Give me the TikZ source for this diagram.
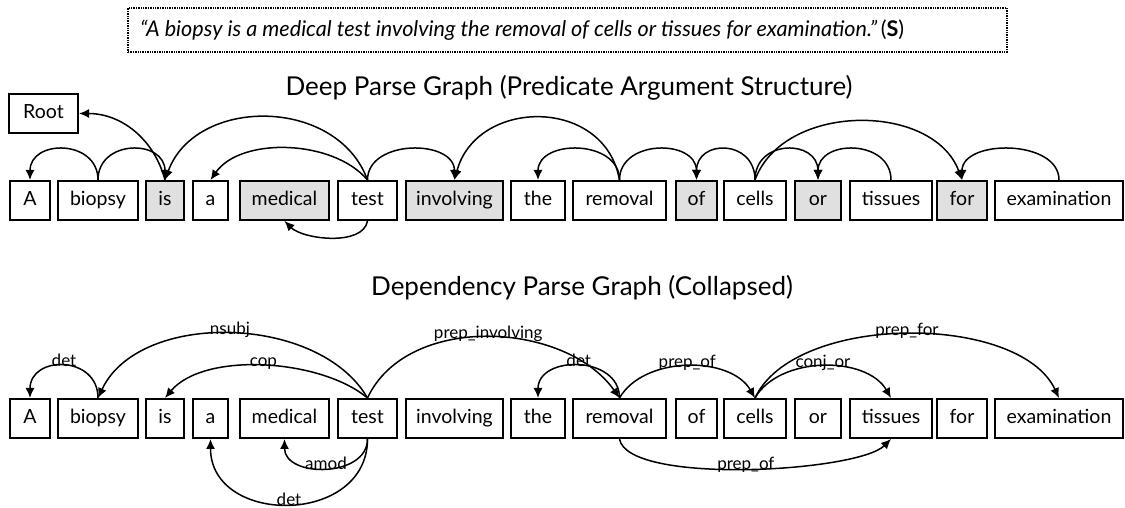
\documentclass[tikz,border=0pt]{standalone}
\usepackage{fontspec}
\setmainfont{Lato}
\usetikzlibrary{arrows.meta}

\tikzset{
  word/.style={draw, line width=2pt, minimum height=39pt, inner sep=0pt,
    font=\fontsize{19.5}{21}\selectfont, text height=14pt, text depth=4.5pt},
  hl/.style={fill=black!12},
  dep/.style={-{Latex[length=10pt,width=9pt]}, line width=1.5pt},
  lab/.style={font=\fontsize{17}{18}\selectfont, anchor=base, inner sep=0pt, yshift=-1pt},
  title/.style={font=\fontsize{26}{28}\selectfont, anchor=base, inner sep=0pt},
}

\begin{document}
\begin{tikzpicture}[x=1pt,y=1pt]
\useasboundingbox (0,0) rectangle (1125,508);

% sentence
\node[draw, densely dotted, line width=1.4pt, minimum width=879pt, minimum height=44pt] (qbox) at (567.5,478) {};
\node[anchor=base west, inner sep=0pt, font=\fontsize{21.6}{23}\selectfont\itshape] (quote) at (140,471)
  {``A biopsy is a medical test involving the removal of cells or tissues for examination.''\,{\upshape(\textbf{S})}};

% deep parse graph
\node[title] (t1) at (569,412) {Deep Parse Graph (Predicate Argument Structure)};

\node[word, minimum width=69pt] (r) at (43.5,394.5) {Root};

\node[word, minimum width=40pt] (p1) at (30,307.5) {A};
\node[word, minimum width=80pt] (p2) at (98,307.5) {biopsy};
\node[word, hl, minimum width=38pt] (p3) at (165,307.5) {is};
\node[word, minimum width=35pt] (p4) at (210.5,307.5) {a};
\node[word, hl, minimum width=89pt] (p5) at (284.5,307.5) {medical};
\node[word, minimum width=59pt] (p6) at (367.5,307.5) {test};
\node[word, hl, minimum width=97pt] (p7) at (454.5,307.5) {involving};
\node[word, minimum width=54pt] (p8) at (538,307.5) {the};
\node[word, minimum width=93pt] (p9) at (619.5,307.5) {removal};
\node[word, hl, minimum width=41pt] (p10) at (696.5,307.5) {of};
\node[word, minimum width=62pt] (p11) at (755,307.5) {cells};
\node[word, hl, minimum width=46pt] (p12) at (818,307.5) {or};
\node[word, minimum width=82pt] (p13) at (891,307.5) {tissues};
\node[word, hl, minimum width=50pt] (p14) at (962,307.5) {for};
\node[word, minimum width=128pt] (p15) at (1059,307.5) {examination};

\draw[dep] (p2.north) to[out=90,in=90,distance=41pt] (p1.north);
\draw[dep] (p2.north) to[out=90,in=90,distance=41pt] (p3.north);
\draw[dep] (p3.north) to[out=105,in=0] (r.east);
\draw[dep] (p6.north) to[out=110,in=70,distance=89pt] (p3.north);
\draw[dep] (p6.north) to[out=130,in=55,distance=53pt] (p4.north);
\draw[dep] (p6.south) to[out=-100,in=-45,distance=26pt] (p5.south);
\draw[dep] (p6.north) to[out=90,in=90,distance=41pt] (p7.north);
\draw[dep] (p9.north) to[out=100,in=75,distance=85pt] (p7.north);
\draw[dep] (p9.north) to[out=90,in=90,distance=41pt] (p8.north);
\draw[dep] (p9.north) to[out=90,in=90,distance=41pt] (p10.north);
\draw[dep] (p11.north) to[out=90,in=90,distance=41pt] (p10.north);
\draw[dep] (p11.north) to[out=90,in=90,distance=41pt] (p12.north);
\draw[dep] (p13.north) to[out=90,in=90,distance=41pt] (p12.north);
\draw[dep] (p11.north) to[out=70,in=110,distance=83pt] (p14.north);
\draw[dep] (p15.north) to[out=90,in=90,distance=41pt] (p14.north);

% dependency parse graph
\node[title] (t2) at (582,212) {Dependency Parse Graph (Collapsed)};

\node[word, minimum width=40pt] (d1) at (30,89.5) {A};
\node[word, minimum width=80pt] (d2) at (98,89.5) {biopsy};
\node[word, minimum width=38pt] (d3) at (165,89.5) {is};
\node[word, minimum width=35pt] (d4) at (210.5,89.5) {a};
\node[word, minimum width=89pt] (d5) at (284.5,89.5) {medical};
\node[word, minimum width=59pt] (d6) at (367.5,89.5) {test};
\node[word, minimum width=97pt] (d7) at (454.5,89.5) {involving};
\node[word, minimum width=54pt] (d8) at (538,89.5) {the};
\node[word, minimum width=93pt] (d9) at (619.5,89.5) {removal};
\node[word, minimum width=41pt] (d10) at (696.5,89.5) {of};
\node[word, minimum width=62pt] (d11) at (755,89.5) {cells};
\node[word, minimum width=46pt] (d12) at (818,89.5) {or};
\node[word, minimum width=82pt] (d13) at (891,89.5) {tissues};
\node[word, minimum width=50pt] (d14) at (962,89.5) {for};
\node[word, minimum width=128pt] (d15) at (1059,89.5) {examination};

\draw[dep] (d2.north) to[out=90,in=90,distance=43pt] node[lab] {det} (d1.north);
\draw[dep] (d6.north) to[out=120,in=65,distance=97pt] node[lab] {nsubj} (d2.north);
\draw[dep] (d6.north) to[out=140,in=50,distance=61pt] node[lab] {cop} (d3.north);
\draw[dep] (d6.south) to[out=-90,in=-90,distance=39pt] node[lab] {amod} (d5.south);
\draw[dep] (d6.south) to[out=-90,in=-90,distance=87pt] node[lab] {det} (d4.south);
\draw[dep] (d6.north) to[out=65,in=125,distance=94pt] node[lab] {prep\_involving} (d9.north);
\draw[dep] (d9.north) to[out=90,in=90,distance=43pt] node[lab] {det} (d8.north);
\draw[dep] (d9.north) to[out=60,in=120,distance=49pt] node[lab] {prep\_of} (d11.north);
\draw[dep] (d9.south) to[out=-80,in=-135,distance=47pt] node[lab] {prep\_of} (d13.south);
\draw[dep] (d11.north) to[out=60,in=120,distance=49pt] node[lab] {conj\_or} (d13.north);
\draw[dep] (d11.north) to[out=65,in=115,distance=94pt] node[lab] {prep\_for} (d15.north);

\end{tikzpicture}
\end{document}
